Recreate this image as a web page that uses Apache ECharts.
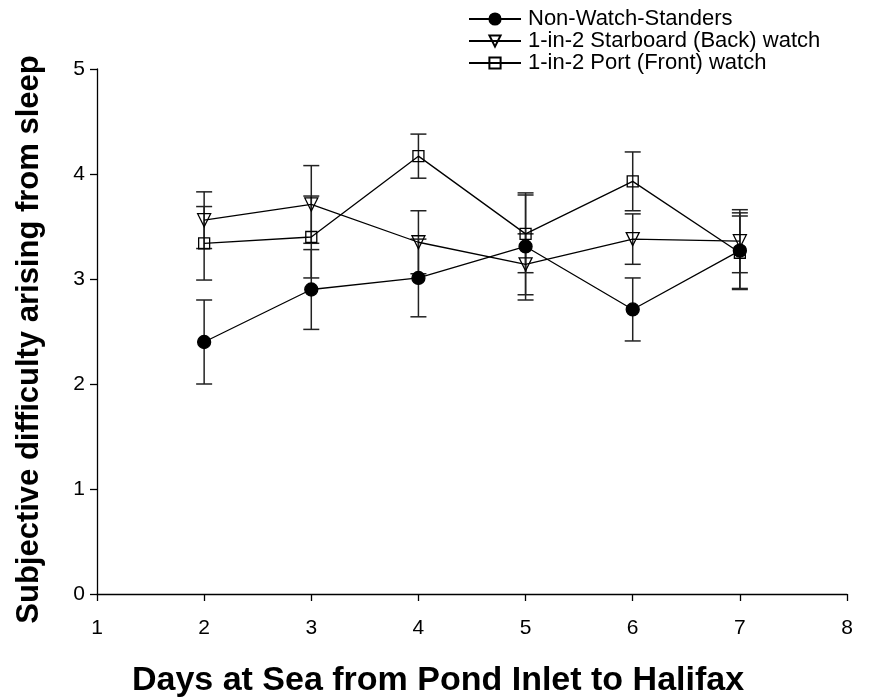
<!DOCTYPE html>
<html>
<head>
<meta charset="utf-8">
<script src="https://cdn.jsdelivr.net/npm/echarts@6/dist/echarts.min.js"></script>
<style>
  html, body { margin: 0; padding: 0; background: #fff; }
  #chart { width: 878px; height: 698px; }
</style>
</head>
<body>
<div id="chart"></div>
<script>
// Days at sea (x values) and group means with their error-bar half widths
const days = [2, 3, 4, 5, 6, 7];
const nonWatch = [2.40, 2.90, 3.01, 3.31, 2.71, 3.27];
const nonWatchErr = [0.40, 0.38, 0.37, 0.51, 0.30, 0.36];
const starboard = [3.56, 3.71, 3.35, 3.14, 3.38, 3.36];
const starboardErr = [0.27, 0.37, 0.30, 0.29, 0.24, 0.30];
const port = [3.34, 3.40, 4.17, 3.43, 3.93, 3.25];
const portErr = [0.35, 0.39, 0.21, 0.37, 0.28, 0.35];
const seriesNames = ['Non-Watch-Standers', '1-in-2 Starboard (Back) watch', '1-in-2 Port (Front) watch'];
const xTicks = [1, 2, 3, 4, 5, 6, 7, 8];
const yTicks = [0, 1, 2, 3, 4, 5];

const FONT = '"Liberation Sans", Arial, sans-serif';

function pairs(vals) {
  return days.map((d, i) => [d, vals[i]]);
}
function errRows(vals, errs) {
  return days.map((d, i) => [d, vals[i] - errs[i], vals[i] + errs[i]]);
}

// Vertical error bar with horizontal caps
function renderErr(params, api) {
  const x = api.value(0);
  const lo = api.coord([x, api.value(1)]);
  const hi = api.coord([x, api.value(2)]);
  const cap = 8;
  const style = { stroke: '#222', lineWidth: 1.5, fill: null };
  return {
    type: 'group',
    children: [
      { type: 'line', shape: { x1: lo[0], y1: lo[1], x2: hi[0], y2: hi[1] }, style },
      { type: 'line', shape: { x1: lo[0] - cap, y1: lo[1], x2: lo[0] + cap, y2: lo[1] }, style },
      { type: 'line', shape: { x1: hi[0] - cap, y1: hi[1], x2: hi[0] + cap, y2: hi[1] }, style }
    ]
  };
}

function errSeries(vals, errs) {
  return {
    type: 'custom',
    renderItem: renderErr,
    data: errRows(vals, errs),
    encode: { x: 0, y: [1, 2] },
    silent: true,
    z: 1
  };
}

function lineSeries(name, vals, symbol, size, fill, rotate) {
  return {
    name,
    type: 'line',
    data: pairs(vals),
    symbol,
    symbolSize: size,
    symbolRotate: rotate || 0,
    showAllSymbol: true,
    lineStyle: { color: '#000', width: 1.3 },
    itemStyle: { color: fill, borderColor: '#000', borderWidth: 1.3 },
    emphasis: { disabled: true },
    z: 3
  };
}

const chart = echarts.init(document.getElementById('chart'), null, { renderer: 'canvas' });

chart.setOption({
  animation: false,
  backgroundColor: '#fff',
  textStyle: { fontFamily: FONT },
  grid: { left: 97, right: 31, top: 69, bottom: 104, containLabel: false },
  title: {
    text: 'Days at Sea from Pond Inlet to Halifax',
    left: 433,
    top: 659,
    textAlign: 'center',
    textStyle: { fontFamily: FONT, fontWeight: 'bold', fontSize: 34, color: '#000' }
  },
  legend: {
    orient: 'vertical',
    left: 463,
    top: 3,
    itemWidth: 52,
    itemHeight: 14,
    itemGap: 0,
    data: seriesNames,
    textStyle: { fontFamily: FONT, fontSize: 22, color: '#000', padding: [0, 0, 0, 2] }
  },
  xAxis: {
    type: 'value',
    min: xTicks[0],
    max: xTicks[xTicks.length - 1],
    interval: 1,
    axisLine: { lineStyle: { color: '#000', width: 1.3 } },
    axisTick: { inside: false, length: 7, lineStyle: { color: '#000', width: 1.3 } },
    axisLabel: { color: '#000', fontSize: 21, margin: 24, fontFamily: FONT },
    splitLine: { show: false }
  },
  yAxis: {
    type: 'value',
    min: yTicks[0],
    max: yTicks[yTicks.length - 1],
    interval: 1,
    name: 'Subjective difficulty arising from sleep',
    nameLocation: 'middle',
    nameGap: 52,
    nameTextStyle: { fontFamily: FONT, fontWeight: 'bold', fontSize: 31, color: '#000', padding: [0, 16, 0, 0] },
    axisLine: { show: true, lineStyle: { color: '#000', width: 1.3 } },
    axisTick: { show: true, inside: false, length: 7, lineStyle: { color: '#000', width: 1.3 } },
    axisLabel: { color: '#000', fontSize: 21, margin: 12, fontFamily: FONT },
    splitLine: { show: false }
  },
  series: [
    errSeries(nonWatch, nonWatchErr),
    errSeries(starboard, starboardErr),
    errSeries(port, portErr),
    lineSeries(seriesNames[0], nonWatch, 'circle', 13, '#000'),
    lineSeries(seriesNames[1], starboard, 'triangle', 13, 'rgba(255,255,255,0)', 180),
    lineSeries(seriesNames[2], port, 'rect', 11, 'rgba(255,255,255,0)')
  ]
});
</script>
</body>
</html>
